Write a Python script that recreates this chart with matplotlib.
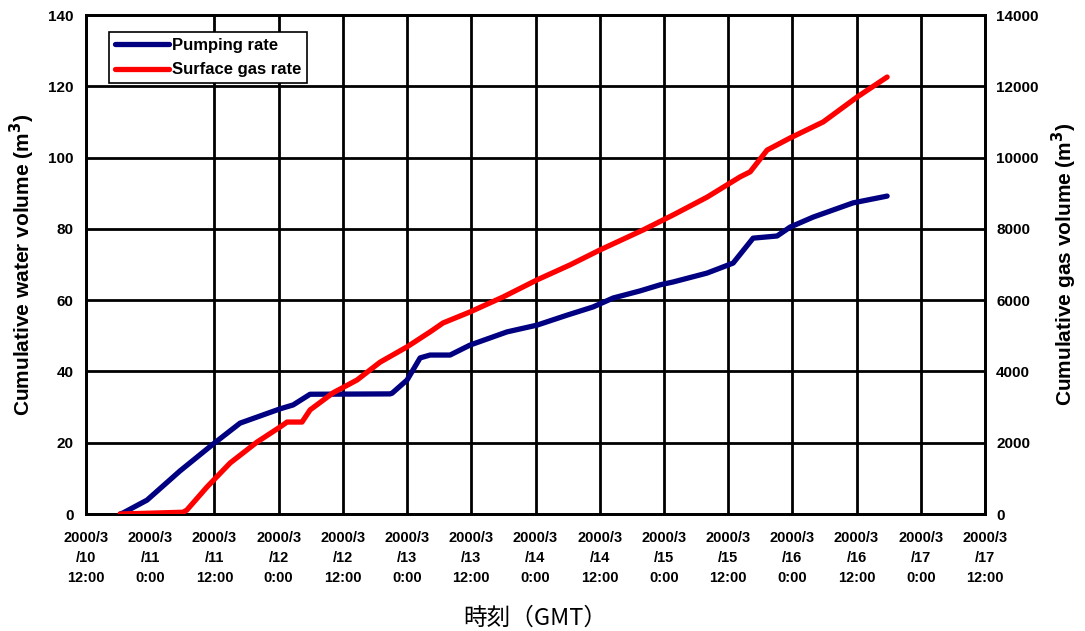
import matplotlib
matplotlib.use("Agg")
import matplotlib.pyplot as plt
import matplotlib.dates as mdates
import pandas as pd

# ---- data ----
pump_time = ["2000-03-10 18:22", "2000-03-10 18:55", "2000-03-10 23:24", "2000-03-11 05:34",
             "2000-03-11 11:44", "2000-03-11 16:47", "2000-03-12 00:15", "2000-03-12 02:42",
             "2000-03-12 05:52", "2000-03-12 20:49", "2000-03-12 21:12", "2000-03-13 00:00",
             "2000-03-13 02:26", "2000-03-13 04:18", "2000-03-13 08:02", "2000-03-13 11:46",
             "2000-03-13 18:41", "2000-03-14 00:18", "2000-03-14 05:55", "2000-03-14 10:46",
             "2000-03-14 14:30", "2000-03-14 19:33", "2000-03-14 23:17", "2000-03-15 01:43",
             "2000-03-15 08:04", "2000-03-15 12:56", "2000-03-15 16:40", "2000-03-15 21:09",
             "2000-03-15 23:35", "2000-03-16 03:53", "2000-03-16 11:22", "2000-03-16 17:43"]
pump_vol = [0.0, 0.3, 3.9, 12.1, 19.6, 25.5, 29.5, 30.6, 33.6, 33.7, 33.9, 37.6,
            43.8, 44.6, 44.6, 47.4, 51.1, 53.0, 55.8, 58.1, 60.6, 62.6, 64.3, 65.1,
            67.6, 70.4, 77.4, 78.0, 80.5, 83.3, 87.3, 89.2]

gas_time = ["2000-03-10 18:22", "2000-03-11 06:08", "2000-03-11 06:50", "2000-03-11 10:37",
            "2000-03-11 14:55", "2000-03-11 19:58", "2000-03-12 00:15", "2000-03-12 01:34",
            "2000-03-12 04:22", "2000-03-12 05:52", "2000-03-12 10:10", "2000-03-12 14:39",
            "2000-03-12 18:57", "2000-03-13 00:00", "2000-03-13 04:18", "2000-03-13 06:43",
            "2000-03-13 11:46", "2000-03-13 17:57", "2000-03-14 00:18", "2000-03-14 06:28",
            "2000-03-14 12:04", "2000-03-14 20:07", "2000-03-15 01:43", "2000-03-15 08:04",
            "2000-03-15 14:15", "2000-03-15 16:07", "2000-03-15 19:17", "2000-03-15 23:35",
            "2000-03-16 05:46", "2000-03-16 12:07", "2000-03-16 17:43"]
gas_vol = [0, 50, 110, 760, 1430, 2020, 2440, 2580, 2580, 2920, 3400, 3760,
           4260, 4690, 5110, 5360, 5670, 6090, 6570, 6990, 7410, 7970, 8390, 8890,
           9460, 9600, 10210, 10550, 11000, 11700, 12260]

x_ticks = pd.date_range("2000-03-10 12:00", "2000-03-17 12:00", freq="12h")
left_ticks = [0, 20, 40, 60, 80, 100, 120, 140]
right_ticks = [0, 2000, 4000, 6000, 8000, 10000, 12000, 14000]
no_grid_tick = pd.Timestamp("2000-03-11 00:00")

plt.rcParams['font.family'] = ['Liberation Sans', 'DejaVu Sans']

fig = plt.figure(figsize=(10.85, 6.31), dpi=100)
ax = fig.add_axes([0.0793, 0.1854, 0.8285, 0.7908])
ax2 = ax.twinx()

pt = pd.to_datetime(pump_time)
gt = pd.to_datetime(gas_time)

# grid
for t in x_ticks[1:-1]:
    if t != no_grid_tick:
        ax.axvline(t, color='black', lw=2, zorder=1)
for v in left_ticks[1:-1]:
    ax.axhline(v, color='black', lw=2, zorder=1)

l1, = ax.plot(pt, pump_vol, color='#000080', lw=3.8, solid_capstyle='round',
              solid_joinstyle='round', zorder=3, label='Pumping rate')
l2, = ax2.plot(gt, gas_vol, color='#FF0000', lw=3.8, solid_capstyle='round',
               solid_joinstyle='round', zorder=3, label='Surface gas rate')

ax.set_xlim(x_ticks[0], x_ticks[-1])
ax.set_ylim(0, 140)
ax2.set_ylim(0, 14000)
ax.set_xticks(x_ticks)

def fmt(x, pos):
    d = mdates.num2date(x)
    return f"{d.year}/{d.month}\n/{d.day}\n{d.hour}:{d.minute:02d}"

ax.xaxis.set_major_formatter(plt.FuncFormatter(fmt))
ax.set_yticks(left_ticks)
ax2.set_yticks(right_ticks)

for lab in ax.get_xticklabels():
    lab.set_fontweight('bold')
    lab.set_fontsize(10.5)
    lab.set_linespacing(1.55)
for lab in ax.get_yticklabels() + ax2.get_yticklabels():
    lab.set_fontweight('bold')
    lab.set_fontsize(11)

ax.tick_params(axis='y', length=0, pad=9)
ax.tick_params(axis='x', length=0, pad=12)
ax2.tick_params(axis='y', length=0, pad=8)

for a in (ax, ax2):
    for s in a.spines.values():
        s.set_linewidth(2)
        s.set_color('black')

ax.set_ylabel('Cumulative water volume (m$^\\mathbf{3}$)', fontsize=15, fontweight='bold', labelpad=8)
ax2.set_ylabel('Cumulative gas volume (m$^\\mathbf{3}$)', fontsize=15, fontweight='bold', labelpad=8,
               rotation=90)
ax.set_xlabel('時刻（GMT）', fontsize=17, family=['Noto Sans CJK JP', 'DejaVu Sans'], labelpad=16)

leg = ax2.legend(handles=[l1, l2], loc='upper left', bbox_to_anchor=(0.026, 0.965),
                 fancybox=False, framealpha=1, edgecolor='black', fontsize=12,
                 handlelength=3.2, borderpad=0.35, labelspacing=0.55, handletextpad=0.2,
                 borderaxespad=0)
leg.get_frame().set_linewidth(1.2)
for txt in leg.get_texts():
    txt.set_fontweight('bold')

fig.savefig('out.png', dpi=100)
